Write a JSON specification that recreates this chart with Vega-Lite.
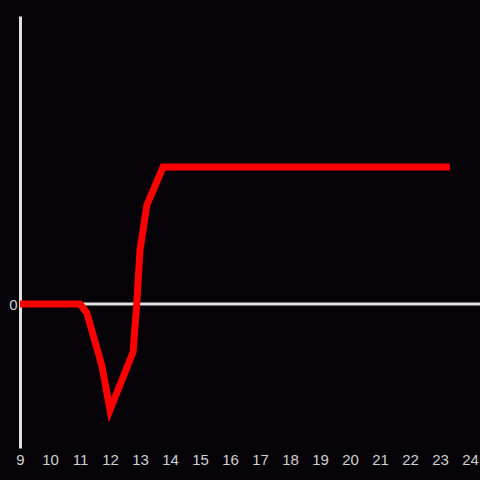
{
  "$schema": "https://vega.github.io/schema/vega-lite/v6.json",
  "autosize": "none",
  "width": 460,
  "height": 432,
  "padding": {"left": 20, "top": 16, "right": 0, "bottom": 32},
  "background": "#050308",
  "config": {"view": {"stroke": null}, "font": "Liberation Sans"},
  "datasets": {
    "series": [
      {"x": 9, "y": 0},
      {"x": 11, "y": 0},
      {"x": 11.23, "y": -0.0625},
      {"x": 11.73, "y": -0.43},
      {"x": 12.0, "y": -0.736},
      {"x": 12.77, "y": -0.333},
      {"x": 12.9, "y": 0.028},
      {"x": 13.0, "y": 0.375},
      {"x": 13.23, "y": 0.6875},
      {"x": 13.77, "y": 0.951},
      {"x": 23.33, "y": 0.951}
    ],
    "zero": [{"y": 0}]
  },
  "layer": [
    {
      "data": {"name": "zero"},
      "mark": {"type": "rule", "color": "#e0e0e0", "strokeWidth": 3},
      "encoding": {
        "y": {
          "field": "y", "type": "quantitative",
          "scale": {"domain": [-1, 2], "nice": false},
          "axis": {"title": null, "values": [0], "format": "d", "grid": false, "ticks": false, "domain": true, "domainColor": "#e0e0e0", "domainWidth": 3, "labelColor": "#d0d0d0", "labelFontSize": 15, "labelPadding": 3}
        }
      }
    },
    {
      "data": {"name": "series"},
      "mark": {"type": "line", "color": "#ff0000", "strokeWidth": 7, "strokeJoin": "miter"},
      "encoding": {
        "x": {
          "field": "x", "type": "quantitative",
          "scale": {"domain": [9, 24.333], "nice": false, "zero": false},
          "axis": {"title": null, "values": [9,10,11,12,13,14,15,16,17,18,19,20,21,22,23,24], "grid": false, "ticks": false, "domain": false, "labelColor": "#d0d0d0", "labelFontSize": 15, "labelPadding": 4, "labelFlush": false}
        },
        "y": {
          "field": "y", "type": "quantitative"
        }
      }
    }
  ]
}
